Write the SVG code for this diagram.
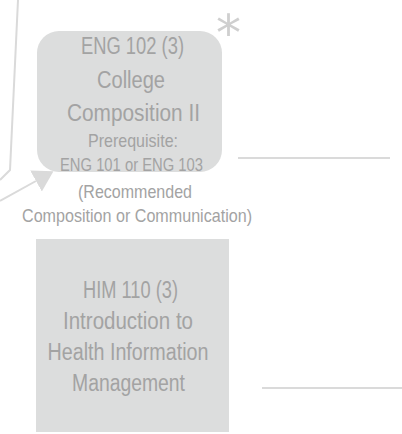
<svg xmlns="http://www.w3.org/2000/svg" width="402" height="434" viewBox="0 0 402 434">
<style>
.box{fill:#dcdddd;stroke:none}
.t{font-family:"Liberation Sans",Arial,sans-serif;fill:#a3a3a3;text-anchor:middle}
.big{font-size:23.5px}
.sm{font-size:18.5px}
.ln{stroke:#dadada;stroke-width:2;fill:none}
.ast{font-family:"DejaVu Sans",sans-serif;font-size:50px;fill:#cfcfcf;text-anchor:middle}
</style>
<defs>
<marker id="ah" markerUnits="userSpaceOnUse" markerWidth="22" markerHeight="26" refX="0" refY="12" orient="auto">
<path d="M0,0 L20,12 L0,24 z" fill="#dadada"/>
</marker>
</defs>
<rect width="402" height="434" fill="#ffffff"/>
<g id="connectors">
<polyline class="ln" points="18,0 10,170 0,180"/>
<line class="ln" x1="0" y1="201" x2="36" y2="181" marker-end="url(#ah)"/>
<line class="ln" x1="238" y1="158" x2="390" y2="158"/>
<line class="ln" x1="262" y1="388" x2="402" y2="388"/>
</g>
<g id="eng102">
<rect class="box" x="37" y="31" width="185" height="141" rx="22" ry="22"/>
<text class="t big" x="132.5" y="54" textLength="103" lengthAdjust="spacingAndGlyphs">ENG 102 (3)</text>
<text class="t big" x="131" y="88" textLength="68" lengthAdjust="spacingAndGlyphs">College</text>
<text class="t big" x="133.5" y="121" textLength="133" lengthAdjust="spacingAndGlyphs">Composition II</text>
<text class="t sm" x="133" y="147" textLength="90" lengthAdjust="spacingAndGlyphs">Prerequisite:</text>
<text class="t sm" x="131.5" y="171" textLength="143" lengthAdjust="spacingAndGlyphs">ENG 101 or ENG 103</text>
<text class="t sm" x="135" y="198" textLength="114" lengthAdjust="spacingAndGlyphs">(Recommended</text>
<text class="t sm" x="137" y="222" textLength="230" lengthAdjust="spacingAndGlyphs">Composition or Communication)</text>
</g>
<g id="asterisk">
<text class="ast" x="228.5" y="50">*</text>
</g>
<g id="him110">
<rect class="box" x="36" y="239" width="193" height="193"/>
<text class="t big" x="130.5" y="298" textLength="95" lengthAdjust="spacingAndGlyphs">HIM 110 (3)</text>
<text class="t big" x="128" y="329" textLength="130" lengthAdjust="spacingAndGlyphs">Introduction to</text>
<text class="t big" x="128" y="360" textLength="161" lengthAdjust="spacingAndGlyphs">Health Information</text>
<text class="t big" x="128.5" y="391" textLength="113" lengthAdjust="spacingAndGlyphs">Management</text>
</g>
</svg>
